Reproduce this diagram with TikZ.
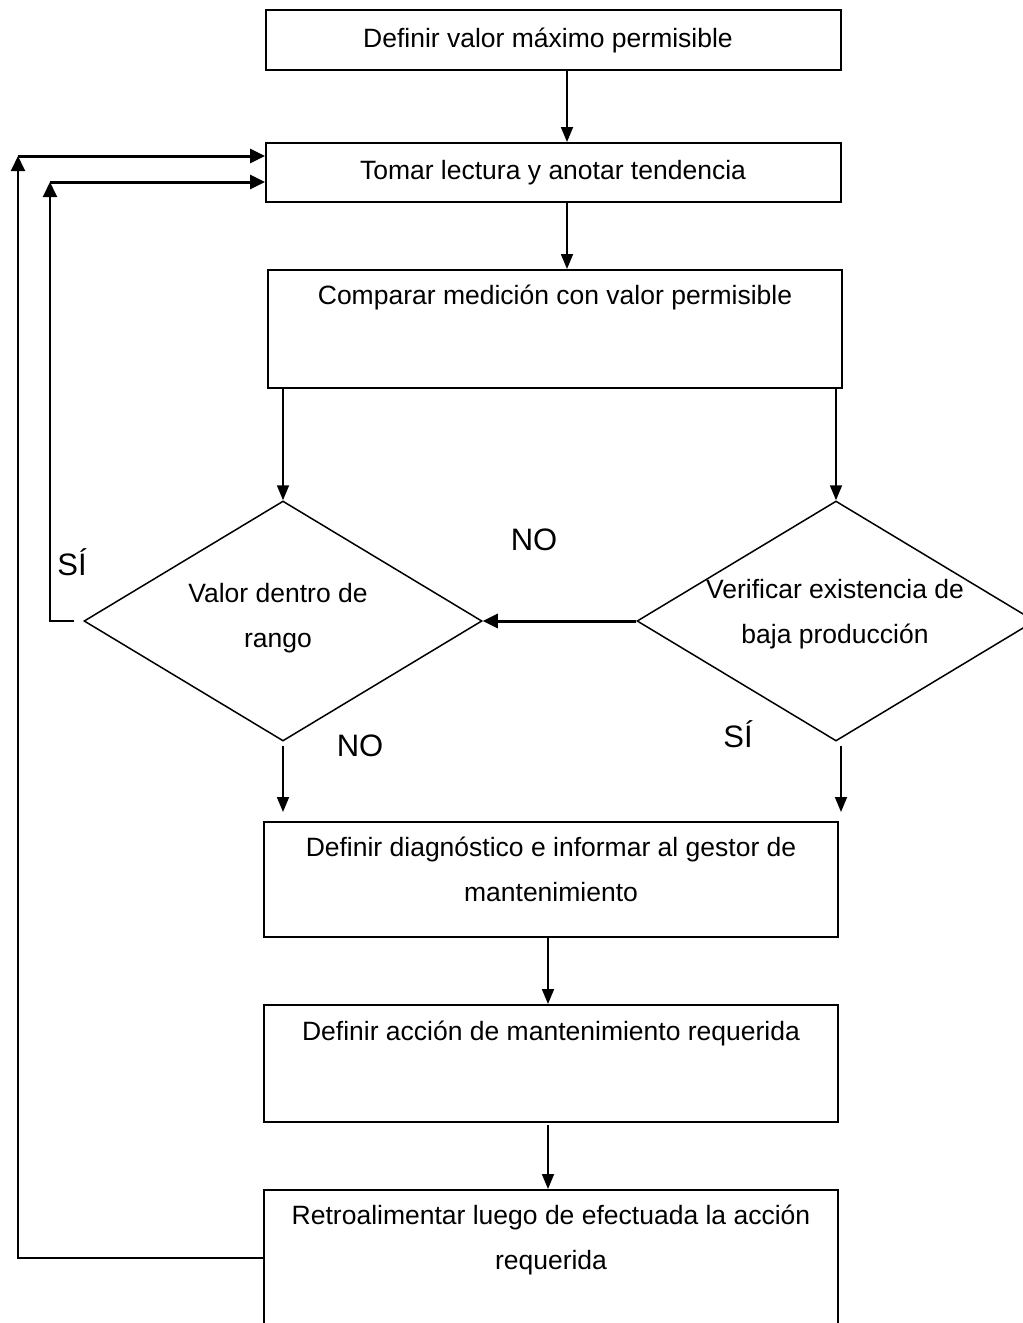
\documentclass[tikz,border=0pt]{standalone}
\usepackage{fontspec}
\setmainfont{Liberation Sans}
\usetikzlibrary{shapes.geometric,arrows.meta}
\newcommand{\twoln}[2]{\begin{tabular}[t]{@{}c@{}}#1\\#2\end{tabular}}
\begin{document}
\begin{tikzpicture}[x=1pt,y=-1pt,
  box/.style={draw,line width=2pt,rectangle,inner sep=0pt,minimum width=575pt},
  dia/.style={draw,line width=1.5pt,diamond,inner sep=0pt,minimum width=398pt,minimum height=240pt},
  txt/.style={anchor=base,inner sep=0pt,font=\fontsize{26.5}{45}\selectfont},
  lbl/.style={anchor=base,inner sep=0pt,font=\fontsize{31}{36}\selectfont},
  arr/.style={line width=1.8pt,-{Triangle[length=15pt,width=12pt]}},
  arrthick/.style={line width=3pt,-{Triangle[length=15pt,width=14pt]}},
  fbv/.style={line width=2pt,-{Triangle[length=15pt,width=14pt]}},
  fbh/.style={line width=3pt,-{Triangle[length=15pt,width=14pt]}}]
\clip (0,0) rectangle (1023,1323);
\fill[white] (0,0) rectangle (1023,1323);
% boxes
\node[box,minimum height=60pt]  (b1) at (553.5,40) {};
\node[box,minimum height=59pt]  (b2) at (553.5,172.5) {};
\node[box,minimum width=574pt,minimum height=118pt] (b3) at (555,329) {};
\node[box,minimum width=574pt,minimum height=115pt] (b4) at (551,879.5) {};
\node[box,minimum width=574pt,minimum height=117pt] (b5) at (551,1063.5) {};
\node[box,minimum width=574pt,minimum height=136pt] (b6) at (551,1258) {};
% diamonds
\node[dia] (d1) at (283,621) {};
\node[dia] (d2) at (836,621) {};
% texts
\node[txt] (t1) at (548,47) {Definir valor máximo permisible};
\node[txt] (t2) at (553,179) {Tomar lectura y anotar tendencia};
\node[txt] (t3) at (555,304) {Comparar medición con valor permisible};
\node[txt] (t4) at (551,856) {\twoln{Definir diagnóstico e informar al gestor de}{mantenimiento}};
\node[txt] (t5) at (551,1040) {Definir acción de mantenimiento requerida};
\node[txt] (t6) at (551,1224) {\twoln{Retroalimentar luego de efectuada la acción}{requerida}};
\node[txt] (td1) at (278,602) {\twoln{Valor dentro de}{rango}};
\node[txt] (td2) at (835,598) {\twoln{Verificar existencia de}{baja producción}};
% labels
\node[lbl] (no1) at (534,550) {NO};
\node[lbl] (si1) at (72,575) {SÍ};
\node[lbl] (no2) at (360,756) {NO};
\node[lbl] (si2) at (738,747) {SÍ};
% connectors
\draw[arr] ([xshift=13.5pt]b1.south) -- ([xshift=13.5pt]b2.north);
\draw[arr] ([xshift=13.5pt]b2.south) -- ([xshift=13.5pt]b2.south |- b3.north);
\draw[arr] (b3.south -| d1.north) -- (d1.north);
\draw[arr] (b3.south -| d2.north) -- (d2.north);
\draw[arrthick] (d2.west) -- (d1.east);
\draw[arr,shorten <=4pt,shorten >=9pt] (d1.south) -- (d1.south |- b4.north);
\draw[arr,shorten <=4pt,shorten >=9pt] ([xshift=5pt]d2.south) -- ([xshift=5pt]d2.south |- b4.north);
\draw[arr] ([xshift=-3pt]b4.south) -- ([xshift=-3pt]b4.south |- b5.north);
\draw[arr,shorten <=2pt] ([xshift=-3pt]b5.south) -- ([xshift=-3pt]b5.south |- b6.north);
% feedback loops
\coordinate (fo) at (18,156);
\coordinate (fi) at (50,182);
\draw[fbv] (b6.west) -| (fo);
\draw[fbh] (fo) -- (b2.west |- fo);
\draw[fbv] ([xshift=-9pt]d1.west) -| (fi);
\draw[fbh] (fi) -- (b2.west |- fi);
\end{tikzpicture}
\end{document}
